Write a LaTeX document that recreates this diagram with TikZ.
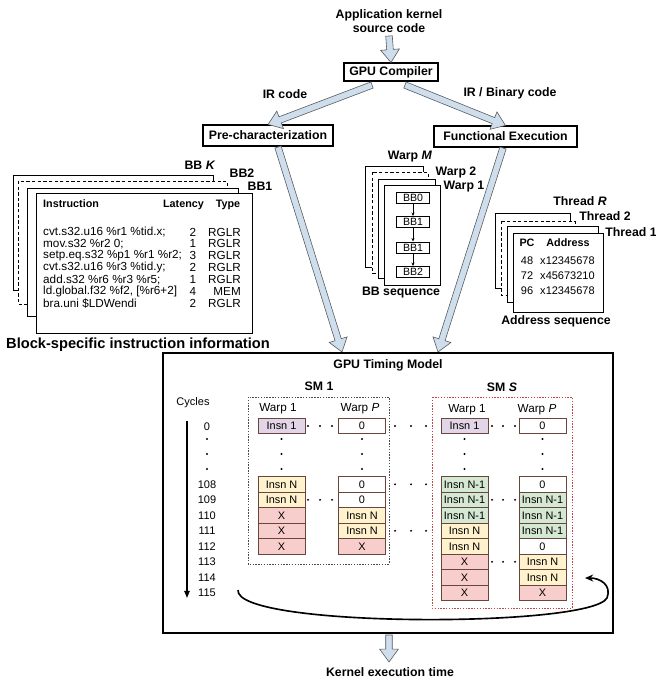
\documentclass[tikz,border=0pt]{standalone}
\usepackage{fontspec}
\setmainfont{Liberation Sans}
\usetikzlibrary{arrows.meta,calc}

\definecolor{arrowblue}{RGB}{206,222,237}
\definecolor{cP}{RGB}{225,213,231}
\definecolor{cY}{RGB}{255,242,204}
\definecolor{cR}{RGB}{248,206,204}
\definecolor{cG}{RGB}{213,232,212}
\colorlet{cW}{white}
\definecolor{cellline}{RGB}{105,70,60}
\definecolor{smred}{RGB}{195,70,70}

% wide hollow arrow from #1 to #2
\newcommand{\blockarrow}[2]{%
  \draw[blockarr] let \p1=($(#2)-(#1)$), \n1={atan2(\y1,\x1)},
    \n2={veclen(\x1,\y1)} in [shift={(#1)}, rotate=\n1]
    (0pt,-2.8pt) -- (\n2-11pt,-2.8pt) -- (\n2-11pt,-8pt) -- (\n2,0pt)
    -- (\n2-11pt,8pt) -- (\n2-11pt,2.8pt) -- (0pt,2.8pt) -- cycle;}

\begin{document}
\begin{tikzpicture}[x=0.03cm, y=-0.03cm, >=Stealth,
  lbl/.style={font=\fontsize{10.5}{12.5}\selectfont\bfseries, inner sep=0pt},
  hdr/.style={font=\fontsize{9.2}{11}\selectfont\bfseries, inner sep=0pt},
  code/.style={font=\fontsize{10}{11}\selectfont, inner sep=0pt},
  txt/.style={font=\fontsize{9.4}{11}\selectfont, inner sep=0pt},
  warplbl/.style={font=\fontsize{10}{11}\selectfont, inner sep=0pt},
  box/.style={draw, line width=0.9pt, fill=white, inner sep=0pt,
    font=\fontsize{10.5}{12}\selectfont\bfseries},
  stackbox/.style={draw, line width=0.8pt, fill=white},
  dashbox/.style={stackbox, dash pattern=on 2.8pt off 2pt},
  bbcell/.style={draw, line width=0.8pt, minimum width=0.99cm,
    minimum height=0.33cm, inner sep=0pt, font=\fontsize{9}{10}\selectfont},
  cell/.style={draw=cellline, line width=0.6pt, minimum width=1.41cm,
    minimum height=0.465cm, inner sep=0pt, font=\fontsize{9.3}{10}\selectfont},
  smbox/.style={line width=0.6pt, dash pattern=on 1.2pt off 1.2pt},
  blockarr/.style={draw=black!65, line width=0.5pt, fill=arrowblue}]
  \useasboundingbox (0,0) rectangle (656,681);

  % compile flow
  \node[lbl, align=center] (src) at (389,21) {Application kernel\\source code};
  \node[box, minimum width=2.82cm, minimum height=0.54cm] (comp) at (391,72) {GPU Compiler};
  \node[lbl] (ir) at (285,94) {IR code};
  \node[lbl] (irbin) at (510,93) {IR / Binary code};
  \node[box, minimum width=3.9cm, minimum height=0.63cm] (pre) at (268,135.5) {Pre-characterization};
  \node[box, minimum width=4.29cm, minimum height=0.63cm] (func) at (505.5,136.5) {Functional Execution};

  \coordinate (srcout) at (389,36);
  \coordinate (compL) at (372,85);
  \coordinate (compR) at (405,85);
  \coordinate (preout) at (278,147);
  \coordinate (funcout) at (503,148);
  \coordinate (tmL) at (342,352);
  \coordinate (tmR) at (438,352);
  \coordinate (tmout) at (389,635);
  \coordinate (kernin) at (389,662);
  \blockarrow{srcout}{comp.north}
  \blockarrow{compL}{pre.north}
  \blockarrow{compR}{func.north}
  \blockarrow{preout}{tmL}
  \blockarrow{funcout}{tmR}
  \blockarrow{tmout}{kernin}

  % basic block tables
  \draw[stackbox] (13,175) rectangle (213,290);
  \draw[dashbox] (18,181) rectangle (227,304);
  \draw[stackbox] (27,188) rectangle (238,316);
  \draw[stackbox] (36,193) rectangle (252,333);
  \node[lbl] (lbbk) at (200,165) {BB \textit{K}};
  \node[lbl] (lbb2) at (242,173) {BB2};
  \node[lbl] (lbb1) at (260,186) {BB1};
  \node[hdr, anchor=west] (hins) at (43,204) {Instruction};
  \node[hdr] (hlat) at (183.5,205) {Latency};
  \node[hdr] (htyp) at (228,205) {Type};
  \foreach \ins/\lat/\typ [count=\i from 0] in {
      {cvt.s32.u16 \%r1 \%tid.x;}/2/RGLR, {mov.s32 \%r2 0;}/1/RGLR,
      {setp.eq.s32 \%p1 \%r1 \%r2;}/3/RGLR, {cvt.s32.u16 \%r3 \%tid.y;}/2/RGLR,
      {add.s32 \%r6 \%r3 \%r5;}/1/RGLR, {ld.global.f32 \%f2, [\%r6+2]}/4/MEM,
      {bra.uni \$LDWendi}/2/RGLR} {
    \node[code, anchor=west] (ins\i) at (43,{232+11.9*\i}) {\ins};
    \node[code] (lat\i) at (193,{232+11.9*\i}) {\lat};
    \node[code, anchor=east] (typ\i) at (241,{232+11.9*\i}) {\typ};
  }
  \node[lbl, font=\fontsize{12.5}{14}\selectfont\bfseries] (bbinfo) at (138,345) {Block-specific instruction information};

  % warp BB sequences
  \draw[stackbox] (365,166) rectangle (423,267);
  \draw[dashbox] (372,172) rectangle (428,273);
  \draw[stackbox] (378,179) rectangle (435,278);
  \draw[stackbox] (384,185) rectangle (440,285);
  \node[lbl] (lwm) at (410,157) {Warp \textit{M}};
  \node[lbl] (lw2) at (456,172) {Warp 2};
  \node[lbl] (lw1) at (464,187) {Warp 1};
  \node[bbcell] (bb0) at (413,197.5) {BB0};
  \node[bbcell] (bb1) at (413,222) {BB1};
  \node[bbcell] (bb2) at (413,247.5) {BB1};
  \node[bbcell] (bb3) at (413,272) {BB2};
  \foreach \a/\b in {bb0/bb1, bb1/bb2, bb2/bb3}
    \draw[-{Stealth[length=3pt,width=2.6pt]}, line width=0.5pt] (\a) -- (\b);
  \node[lbl] (bbseq) at (401,293) {BB sequence};

  % thread address traces
  \draw[stackbox] (495,213) rectangle (570,288);
  \draw[dashbox] (501,221) rectangle (575,295);
  \draw[stackbox] (507,226) rectangle (598,302);
  \draw[stackbox] (513,233) rectangle (603,312);
  \node[lbl] (ltr) at (580,201) {Thread \textit{R}};
  \node[lbl] (lt2) at (605,216) {Thread 2};
  \node[lbl] (lt1) at (631,232) {Thread 1};
  \node[hdr] (hpc) at (527,243) {PC};
  \node[hdr] (hadr) at (568,243) {Address};
  \foreach \pc/\adr [count=\i from 0] in {48/x12345678, 72/x45673210, 96/x12345678} {
    \node[txt] (pc\i) at (527,{261+15*\i}) {\pc};
    \node[txt, anchor=west] (adr\i) at (540,{261+15*\i}) {\adr};
  }
  \node[lbl] (adrseq) at (556,321) {Address sequence};

  % timing model
  \draw[line width=0.9pt] (163,353) rectangle (613,633);
  \node[lbl] (tmlbl) at (388,365) {GPU Timing Model};
  \node[lbl] (sm1) at (319,386) {SM 1};
  \node[lbl] (sms) at (502,387) {SM \textit{S}};
  \draw[smbox, draw=black!70] (248,397) rectangle (389,564);
  \draw[smbox, draw=smred] (432,397) rectangle (572,608);
  \node[warplbl] (w11) at (278,409) {Warp 1};
  \node[warplbl] (w1p) at (360,409) {Warp \textit{P}};
  \node[warplbl] (ws1) at (467,410) {Warp 1};
  \node[warplbl] (wsp) at (537,410) {Warp \textit{P}};

  \node[txt] (cyc) at (193,403) {Cycles};
  \node[txt] (c0) at (207,427) {0};
  \foreach \c [count=\k from 0] in {108,...,115}
    \node[txt] (c\c) at (207,{484.3+15.5*\k}) {\c};
  \coordinate (axtop) at (187,421);
  \coordinate (axbot) at (187,598);
  \draw[line width=1.3pt, -{Triangle[length=6pt,width=4.5pt]}] (axtop) -- (axbot);

  % warp columns, rows 108 and later
  \node[cell, fill=cP] (a0) at (281.5,426) {Insn 1};
  \node[cell, fill=cW] (b0) at (362,426) {0};
  \node[cell, fill=cP] (c0) at (464.5,426) {Insn 1};
  \node[cell, fill=cW] (d0) at (542.5,426) {0};
  \foreach \col/\x/\cells in {
      a/281.5/{cY/Insn N, cY/Insn N, cR/X, cR/X, cR/X},
      b/362/{cW/0, cW/0, cY/Insn N, cY/Insn N, cR/X},
      c/464.5/{cG/Insn N-1, cG/Insn N-1, cG/Insn N-1, cY/Insn N, cY/Insn N, cR/X, cR/X, cR/X},
      d/542.5/{cW/0, cG/Insn N-1, cG/Insn N-1, cG/Insn N-1, cW/0, cY/Insn N, cY/Insn N, cR/X}}
    \foreach \f/\t [count=\k from 1] in \cells
      \node[cell, fill=\f] (\col\k) at (\x,{468.8+15.5*\k}) {\t};

  % elided cycles, warps and SMs
  \foreach \x in {207,281.5,362,464.5,542.5}
    \foreach \y in {439,454,469}
      \fill (\x,\y) circle[radius=0.9pt];
  \foreach \x in {308,320,332}
    \foreach \y in {426,499.8}
      \fill (\x,\y) circle[radius=0.9pt];
  \foreach \x in {492,503,515}
    \foreach \y in {426,499.8,561.8}
      \fill (\x,\y) circle[radius=0.9pt];
  \foreach \x in {395,411,426}
    \foreach \y in {426,484.3,530.8}
      \fill (\x,\y) circle[radius=0.9pt];

  \coordinate (lpS) at (238,590);
  \coordinate (lpE) at (585,578);
  \draw[line width=1.4pt, -{Stealth[length=7pt,width=6pt]}] (lpS)
    .. controls (234,628) and (590,628) .. (607,598)
    .. controls (612,585) and (600,578) .. (lpE);

  \node[lbl] (kern) at (390,672) {Kernel execution time};
\end{tikzpicture}
\end{document}
